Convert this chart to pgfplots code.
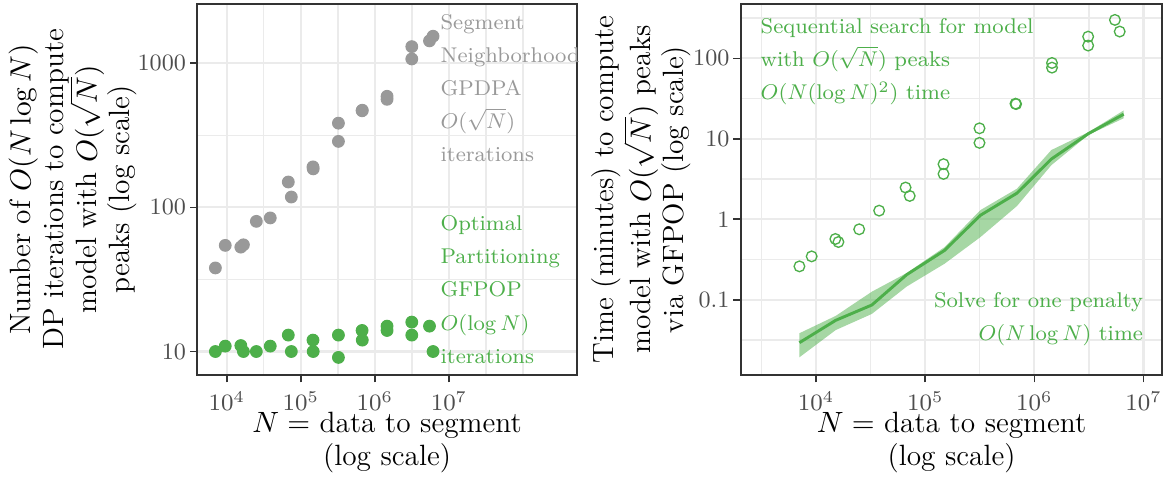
\RequirePackage{fix-cm}
\documentclass[border=0pt]{standalone}
\usepackage{pgfplots}
\pgfplotsset{compat=1.18}

\definecolor{ggreen}{HTML}{4DAF4A}
\definecolor{ggray}{HTML}{999999}
\definecolor{tickgray}{HTML}{4D4D4D}
\definecolor{gridgray}{HTML}{EBEBEB}
\definecolor{bordergray}{HTML}{333333}

\pgfplotsset{
  every axis/.append style={
    scale only axis, clip=false,
    axis line style={bordergray, line width=0.7pt},
    tick align=outside, major tick length=2.75pt, minor tick length=0pt,
    xtick pos=bottom, ytick pos=left,
    every tick/.style={bordergray, line width=0.6pt},
    tick label style={font=\fontsize{8.8}{10}\selectfont, text=tickgray},
    yticklabel style={xshift=2pt},
    grid=both,
    major grid style={gridgray, line width=0.8pt},
    minor grid style={gridgray, line width=0.5pt},
    label style={font=\fontsize{11}{12.4}\selectfont, align=center},
    xlabel style={at={(axis description cs:0.5,-0.181)}, anchor=center},
  },
}
\tikzset{annot/.style={font=\fontsize{8}{12.4}\selectfont, inner sep=0pt}}

\begin{document}
\begin{tikzpicture}
\useasboundingbox (0,0) rectangle (439.5pt,179.6pt);

% left panel: DP iterations
\begin{axis}[xmode=log, ymode=log,
    at={(74pt,39pt)}, anchor=south west,
    width=142.3pt, height=139.1pt,
    xmin=4010, xmax=5.32e8, ymin=6.88, ymax=2577,
    xtick={1e4,1e5,1e6,1e7},
    minor xtick={31622.8,316228,3162278,31622777,1e8},
    ytick={10,100,1000}, yticklabels={10,100,1000},
    minor ytick={31.6228,316.228},
    xlabel={$N =$ data to segment\\(log scale)},
    ylabel={Number of $O(N\log N)$\\DP iterations to compute\\model with $O(\sqrt{N})$\\peaks (log scale)},
    ylabel style={at={(axis description cs:-0.3276,0.5)}, anchor=center},
  ]
  % Segment Neighborhood GPDPA
  \addplot[only marks, mark=*, mark size=2.2pt, ggray] table {
    x y
    7030 38
    9550 54.5
    15500 53
    16800 55
    25100 80
    38700 84.5
    67800 150
    74500 118
    146000 191
    147000 185
    322000 384
    322000 287
    672000 468
    676000 472
    1460000 590
    1460000 562
    3150000 1304
    3150000 1071
    5460000 1430
    6100000 1540
  };
  % Optimal Partitioning GFPOP
  \addplot[only marks, mark=*, mark size=2.2pt, ggreen] table {
    x y
    7030 10
    9550 10.9
    15500 11
    16800 10
    25100 10
    38700 10.9
    67800 13
    74500 10
    146000 12
    147000 10
    322000 13
    322000 9.1
    672000 14
    676000 12
    1460000 15
    1460000 14
    3150000 16
    3150000 13
    5460000 15
    6100000 10
  };
  \node[annot, text=ggray, anchor=west, align=left] at (axis cs:7.6e6,674)
    {Segment\\Neighborhood\\GPDPA\\$O(\sqrt{N})$\\iterations};
  \node[annot, text=ggreen, anchor=west, align=left] at (axis cs:7.6e6,26.9)
    {Optimal\\Partitioning\\GFPOP\\$O(\log N)$\\iterations};
\end{axis}

% right panel: time in minutes
\begin{axis}[xmode=log, ymode=log,
    at={(277.8pt,39pt)}, anchor=south west,
    width=158.1pt, height=139.1pt,
    xmin=2040, xmax=1.49e7, ymin=0.01164, ymax=473,
    xtick={1e4,1e5,1e6,1e7},
    minor xtick={3162.28,31622.8,316228,3162278},
    ytick={0.1,1,10,100}, yticklabels={0.1,1,10,100},
    minor ytick={0.0316228,0.316228,3.16228,31.6228,316.228},
    xlabel={$N =$ data to segment\\(log scale)},
    ylabel={Time (minutes) to compute\\model with $O(\sqrt{N})$ peaks\\via GFPOP (log scale)},
    ylabel style={at={(axis description cs:-0.2358,0.5)}, anchor=center},
  ]
  % band for one penalty: upper edge then lower edge reversed
  \addplot[draw=none, fill=ggreen, fill opacity=0.5] table {
    x y
    7030 0.0384
    15100 0.063
    32400 0.126
    67600 0.215
    150000 0.45
    320000 1.30
    692000 2.40
    1430000 7.25
    3130000 12.1
    6580000 22.5
    6580000 18.0
    3130000 11.2
    1430000 4.7
    692000 1.46
    320000 0.60
    150000 0.28
    67600 0.146
    32400 0.0667
    15100 0.042
    7030 0.0193
  };
  \addplot[ggreen, line width=1.1pt] table {
    x y
    7030 0.0293
    15100 0.0555
    32400 0.0861
    67600 0.205
    150000 0.41
    320000 1.12
    692000 2.11
    1430000 5.6
    3130000 11.6
    6580000 20.2
  };
  % sequential search
  \addplot[only marks, mark=o, mark size=2.0pt, ggreen, line width=0.5pt] table {
    x y
    7030 0.26
    9100 0.346
    15000 0.569
    16000 0.522
    24800 0.751
    37800 1.28
    66000 2.48
    72000 1.95
    147000 4.84
    147000 3.66
    314000 13.5
    314000 8.9
    671000 27.3
    680000 27.0
    1450000 87.5
    1450000 76.6
    3110000 186
    3110000 144
    5470000 300
    6050000 215
  };
  \node[annot, text=ggreen, anchor=west, align=left] at (axis cs:3070,90.7)
    {Sequential search for model\\with $O(\sqrt{N})$ peaks\\$O(N(\log N)^2)$ time};
  \node[annot, text=ggreen, anchor=east, align=right] at (axis cs:1e7,0.058)
    {Solve for one penalty\\$O(N\log N)$ time};
\end{axis}
\end{tikzpicture}
\end{document}
